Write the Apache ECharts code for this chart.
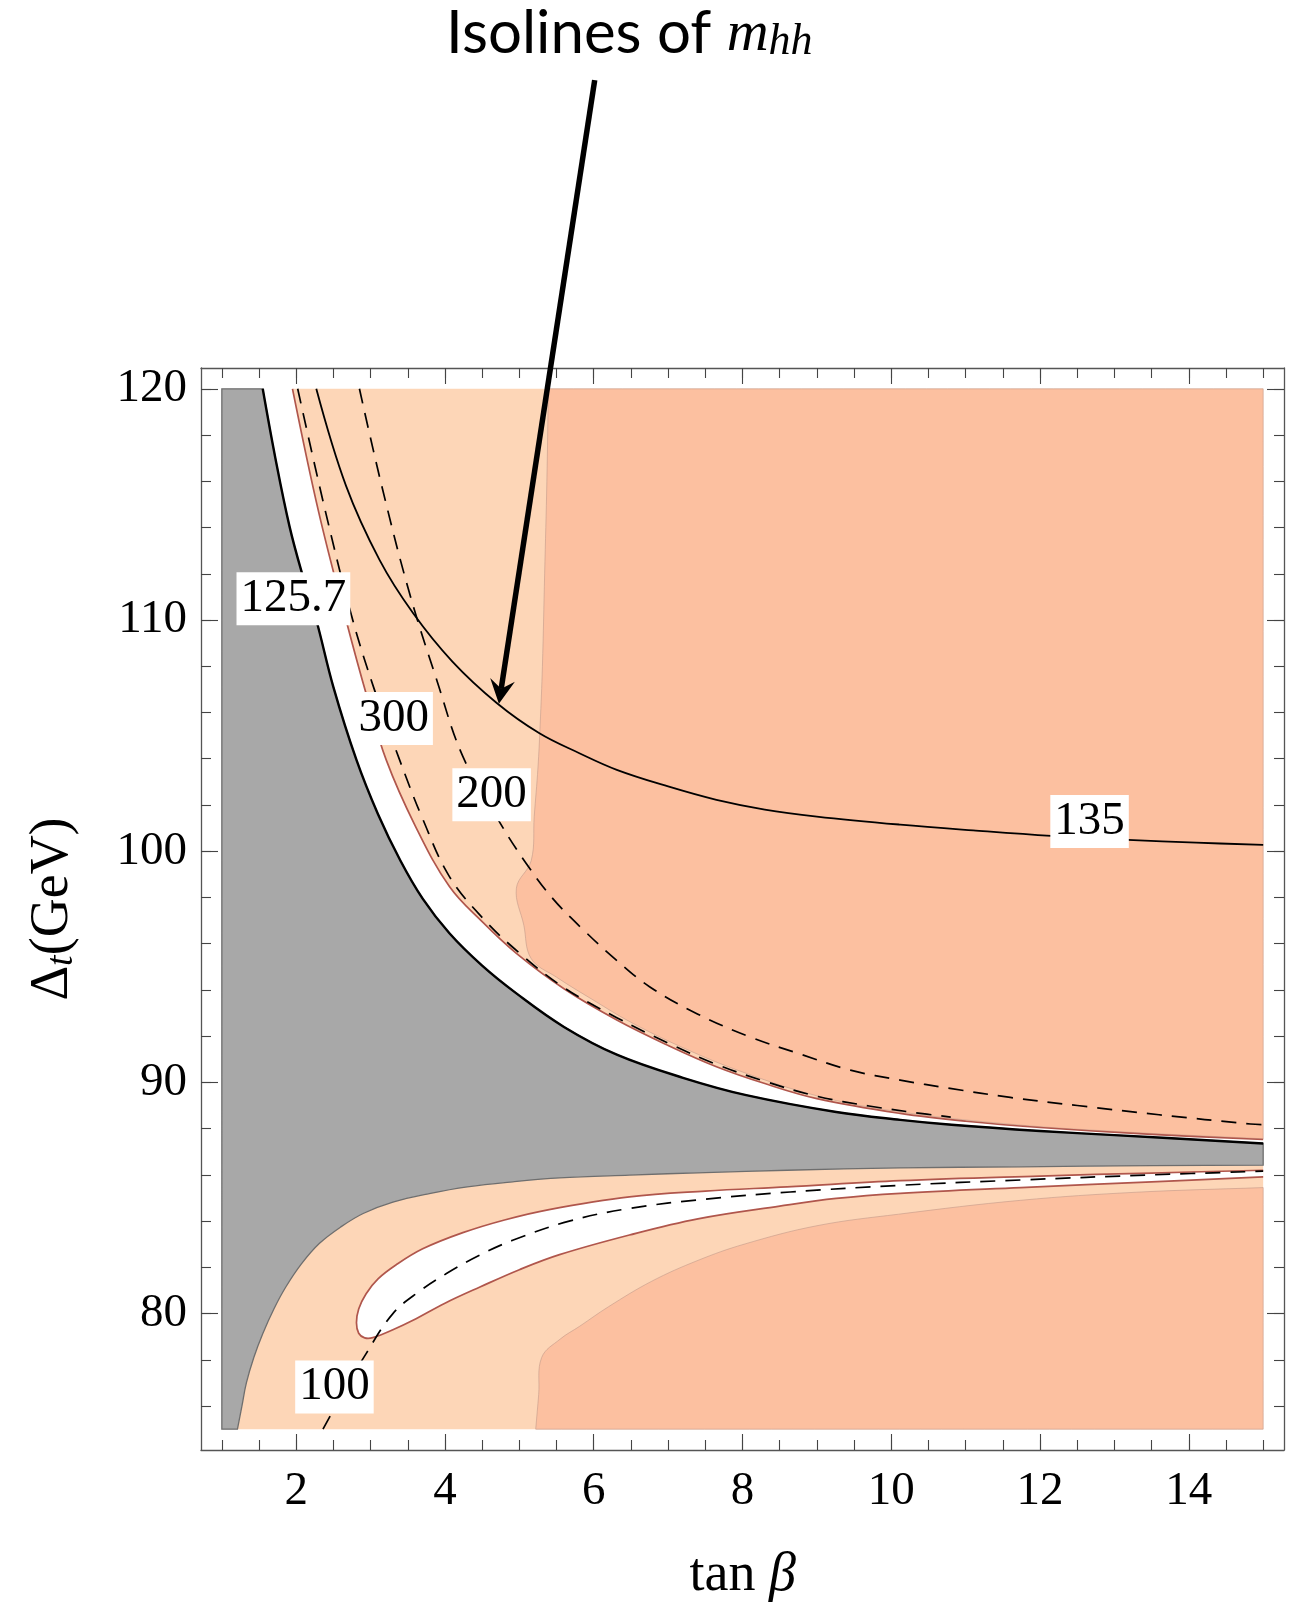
<!DOCTYPE html>
<html>
<head>
<meta charset="utf-8">
<script src="https://cdn.jsdelivr.net/npm/echarts@6/dist/echarts.min.js"></script>
<style>
html,body{margin:0;padding:0;background:#fff;}
#c{width:1294px;height:1603px;}
</style>
</head>
<body>
<div id="c"></div>
<script>
// ---------------- data ----------------
const xMajorTicks = [2, 4, 6, 8, 10, 12, 14];
const xMinorTicks = [1, 1.5, 2, 2.5, 3, 3.5, 4, 4.5, 5, 5.5, 6, 6.5, 7, 7.5, 8, 8.5, 9, 9.5, 10, 10.5, 11, 11.5, 12, 12.5, 13, 13.5, 14, 14.5, 15];
const yMajorTicks = [80, 90, 100, 110, 120];
const yMinorTicks = [76, 78, 80, 82, 84, 86, 88, 90, 92, 94, 96, 98, 100, 102, 104, 106, 108, 110, 112, 114, 116, 118, 120];

// m_hh = 125.7 contour (upper edge of the grey region)
const contour1257 = [[1.55,120],[1.72,117.0],[1.91,114.05],[2.08,112.0],[2.27,110.0],[2.5,107.1],[2.81,103.95],[3.1,101.6],[3.4,99.6],[3.7,97.95],[4.06,96.45],[4.5,95.05],[4.96,93.85],[5.6,92.4],[6.31,91.2],[7.2,90.2],[8.05,89.45],[9.26,88.72],[10.12,88.38],[10.81,88.17],[12,87.9],[13,87.72],[15,87.36]];
// lower edge of the grey region
const greyLower = [[1.21,75],[1.27,76],[1.33,77],[1.43,78.1],[1.55,79.13],[1.7,80.2],[1.86,81.15],[2.07,82.15],[2.31,83.03],[2.6,83.75],[2.9,84.33],[3.3,84.82],[3.79,85.19],[4.3,85.48],[4.91,85.7],[5.54,85.87],[6.48,85.99],[7.5,86.1],[8.6,86.2],[10.12,86.3],[11.74,86.35],[13.5,86.4],[15,86.42]];
// brown boundary of the upper allowed band
const brownUpper = [[1.95,120],[2.3,114.7],[2.67,110.0],[2.95,106.7],[3.21,103.95],[3.6,101.1],[4.06,98.47],[4.5,96.95],[4.96,95.58],[5.6,94.05],[6.31,92.7],[7.0,91.6],[7.65,90.68],[8.3,89.95],[9.0,89.3],[10.12,88.66],[11.0,88.32],[12.0,88.05],[13.5,87.75],[15,87.53]];
// edge of the darker upper region
const darkUpperEdge = [[5.39,120],[5.37,116],[5.34,112],[5.31,108],[5.28,105.5],[5.25,103.6],[5.2,101.5],[5.16,99.6],[4.96,98.4],[5.06,96.8],[5.16,95.35],[5.5,94.55],[6.0,93.55],[6.5,92.6],[7.2,91.5],[8.0,90.45],[9.0,89.42],[10.0,88.78],[11.5,88.22],[13,87.88],[15,87.56]];
// edge of the darker lower region
const darkLowerEdge = [[5.22,75],[5.26,76.5],[5.3,78.1],[5.55,78.9],[5.81,79.45],[6.2,80.3],[6.78,81.4],[7.4,82.3],[8.02,83.0],[9.0,83.8],[10.1,84.3],[11.74,84.9],[13.3,85.25],[15,85.45]];
// white tongue (lower allowed band), from upper-right round the tip to lower-right
const tongue = [[15,86.2],[13.5,86.08],[12,85.95],[10.12,85.75],[8.6,85.48],[7.5,85.3],[6.48,85.05],[5.4,84.5],[4.8,84.05],[4.24,83.5],[3.7,82.8],[3.34,82.1],[3.1,81.5],[2.94,80.86],[2.84,80.2],[2.81,79.6],[2.84,79.15],[2.92,78.95],[3.03,78.96],[3.3,79.3],[3.57,79.71],[4.0,80.45],[4.47,81.15],[5.0,81.9],[5.54,82.55],[6.48,83.4],[7.4,84.1],[8.5,84.65],[9.26,84.98],[10.12,85.2],[11.74,85.45],[13.5,85.7],[15,85.91]];
// isolines of m_hh
const iso300 = [[2.02,120],[2.4,114.6],[2.76,110.0],[3.05,107.0],[3.39,103.95],[3.7,101.4],[4.06,98.9],[4.51,97.1],[5.0,95.6],[5.6,94.1],[6.31,92.8],[7.0,91.7],[7.65,90.78],[8.3,90.05],[9.0,89.4],[9.7,88.98],[10.3,88.7],[10.8,88.5]];
const iso200 = [[2.85,120],[3.15,115.8],[3.52,111.2],[3.9,107.3],[4.24,104.1],[4.73,101.28],[5.09,99.48],[5.45,97.95],[5.86,96.6],[6.3,95.3],[6.75,94.14],[7.4,92.95],[8.1,91.97],[8.8,91.2],[9.45,90.53],[10.12,90.1],[10.79,89.74],[11.6,89.35],[12.5,89.0],[13.6,88.6],[14.83,88.2],[15,88.17]];
const iso135 = [[2.27,120],[2.67,115.8],[3.12,112.6],[3.57,110.3],[4.1,108.2],[4.7,106.4],[5.27,105.1],[5.8,104.25],[6.31,103.52],[7.0,102.8],[7.65,102.22],[8.3,101.8],[9.0,101.5],[10.12,101.15],[11.1,100.9],[12.15,100.66],[13.18,100.49],[14.1,100.37],[15,100.27]];
const iso100 = [[2.36,75],[2.6,76.4],[2.94,78.27],[3.3,80.0],[3.65,80.95],[4.02,81.73],[4.45,82.5],[4.91,83.17],[5.67,84.0],[6.48,84.55],[7.5,84.95],[8.64,85.26],[10.12,85.55],[11.74,85.78],[13.5,86.0],[15,86.16]];
// contour labels
const contourLabelText = ['125.7', '300', '200', '135', '100'];
const contourLabelPos = [[1.962,110.92],[3.31,105.74],[4.627,102.44],[12.666,101.28],[2.514,76.82]];
// annotation arrow (data space)
const arrowFrom = [6.013, 133.35];
const arrowTo = [4.725, 106.38];

// ---------------- styling / layout ----------------
const X0 = 0.72, X1 = 15.28, Y0 = 74.1, Y1 = 120.9;
const SERIF = 'Liberation Serif';
const LIGHT = '#fdd6b7', DARK = '#fcc0a0', GREY = '#a8a8a8', BROWN = '#b0564c';
const DASH = [15, 10];
const SMOOTH = 0.38;

function ring(segments) {
  const out = [];
  segments.forEach(s => { out.push(s[0]); s.forEach(p => out.push(p)); out.push(s[s.length - 1]); });
  return out;
}
function rev(a) { return a.slice().reverse(); }

function shape(pts, closed, style, z) {
  return {
    type: 'custom', coordinateSystem: 'cartesian2d', z: z, silent: true,
    data: [[1, 75]],
    renderItem: function (params, api) {
      return {
        type: closed ? 'polygon' : 'polyline',
        shape: { points: pts.map(p => api.coord(p)), smooth: SMOOTH },
        style: Object.assign({ fill: null }, style)
      };
    }
  };
}

function axis(dim, pos, ticks, len, showLabel, showLine) {
  return {
    type: 'value', position: pos,
    min: dim === 'x' ? X0 : Y0, max: dim === 'x' ? X1 : Y1,
    splitLine: { show: false },
    axisLine: { show: showLine, onZero: false, lineStyle: { color: '#555', width: 1.3 } },
    axisTick: { show: true, inside: true, length: len, customValues: ticks, lineStyle: { color: '#444', width: 1.1 } },
    axisLabel: { show: showLabel, customValues: ticks, fontFamily: SERIF, fontSize: 47, color: '#000', margin: dim === 'x' ? 18 : 14 }
  };
}

const upperLightPoly = ring([brownUpper, [[15, 87.53], [15, 120]], [[15, 120], [1.95, 120]]]);
const upperDarkPoly = ring([darkUpperEdge, [[15, 87.56], [15, 120]], [[15, 120], [5.39, 120]]]);
const lowerLightPoly = ring([greyLower, [[15, 86.42], [15, 75]], [[15, 75], [1.21, 75]]]);
const lowerDarkPoly = ring([darkLowerEdge, [[15, 85.45], [15, 75]], [[15, 75], [5.22, 75]]]);
const tonguePoly = ring([tongue, [[15, 85.91], [15, 86.2]]]);
const greyPoly = ring([[[1, 75], [1, 120]], [[1, 120], [1.55, 120]], contour1257, [[15, 87.36], [15, 86.42]], rev(greyLower), [[1.21, 75], [1, 75]]]);

const chart = echarts.init(document.getElementById('c'), null, { renderer: 'canvas' });

const option = {
  animation: false,
  backgroundColor: '#fff',
  grid: { left: 201, top: 368, width: 1083, height: 1082, containLabel: false, outerBoundsMode: 'none' },
  xAxis: [
    axis('x', 'bottom', xMajorTicks, 16, true, true),
    axis('x', 'bottom', xMinorTicks, 10, false, false),
    axis('x', 'top', xMajorTicks, 16, false, true),
    axis('x', 'top', xMinorTicks, 10, false, false)
  ],
  yAxis: [
    axis('y', 'left', yMajorTicks, 17, true, true),
    axis('y', 'left', yMinorTicks, 10, false, false),
    axis('y', 'right', yMajorTicks, 17, false, true),
    axis('y', 'right', yMinorTicks, 10, false, false)
  ],
  series: [
    shape(upperLightPoly, true, { fill: LIGHT }, 2),
    shape(upperDarkPoly, true, { fill: DARK, stroke: 'rgba(190,150,135,0.55)', lineWidth: 1 }, 3),
    shape(lowerLightPoly, true, { fill: LIGHT }, 4),
    shape(lowerDarkPoly, true, { fill: DARK, stroke: 'rgba(190,150,135,0.55)', lineWidth: 1 }, 5),
    shape(tonguePoly, true, { fill: '#fff' }, 6),
    shape(greyPoly, true, { fill: GREY, stroke: '#6e6e6e', lineWidth: 1.3 }, 7),
    shape(brownUpper, false, { stroke: BROWN, lineWidth: 1.7 }, 8),
    shape(tongue, false, { stroke: BROWN, lineWidth: 1.7 }, 8),
    shape(iso300, false, { stroke: '#000', lineWidth: 1.7, lineDash: DASH }, 9),
    shape(iso200, false, { stroke: '#000', lineWidth: 1.7, lineDash: DASH }, 9),
    shape(iso100, false, { stroke: '#000', lineWidth: 1.7, lineDash: DASH }, 9),
    shape(iso135, false, { stroke: '#000', lineWidth: 1.8 }, 9),
    shape(contour1257, false, { stroke: '#000', lineWidth: 2.4 }, 10)
  ]
};
chart.setOption(option);

const toPx = p => chart.convertToPixel({ xAxisIndex: 0, yAxisIndex: 0 }, p);
const tail = toPx(arrowFrom);
const tip = toPx(arrowTo);
const dx = tip[0] - tail[0], dy = tip[1] - tail[1], L = Math.hypot(dx, dy);
const ux = dx / L, uy = dy / L, px = -uy, py = ux;
const headLen = 24, halfW = 12.5, notch = 15;
const cA = [tip[0] - ux * headLen + px * halfW, tip[1] - uy * headLen + py * halfW];
const cB = [tip[0] - ux * headLen - px * halfW, tip[1] - uy * headLen - py * halfW];
const nP = [tip[0] - ux * notch, tip[1] - uy * notch];

const labelGraphics = contourLabelText.map((t, i) => {
  const c = toPx(contourLabelPos[i]);
  return {
    type: 'text', z: 40, x: c[0], y: c[1],
    style: {
      text: '{v|' + t + '}', align: 'center', verticalAlign: 'middle',
      backgroundColor: '#fff', padding: [3, 4, 3, 4],
      rich: { v: { fontFamily: SERIF, fontSize: 47, lineHeight: 47, fill: '#000' } }
    }
  };
});

chart.setOption({
  graphic: labelGraphics.concat([
    { type: 'line', z: 30, shape: { x1: tail[0], y1: tail[1], x2: nP[0], y2: nP[1] }, style: { stroke: '#000', lineWidth: 5.5 } },
    { type: 'polygon', z: 30, shape: { points: [tip, cA, nP, cB] }, style: { fill: '#000' } },
    {
      type: 'text', z: 30, x: 446, y: 34,
      style: {
        text: '{a|Isolines of }{m|m}{s|hh}', align: 'left', verticalAlign: 'middle',
        rich: {
          a: { fontFamily: 'Lato', fontSize: 60, lineHeight: 60, fill: '#000' },
          m: { fontFamily: SERIF, fontStyle: 'italic', fontSize: 58, lineHeight: 54, verticalAlign: 'bottom', fill: '#000' },
          s: { fontFamily: SERIF, fontStyle: 'italic', fontSize: 44, lineHeight: 34, verticalAlign: 'bottom', fill: '#000' }
        }
      }
    },
    {
      type: 'text', z: 30, x: 742.6, y: 1576,
      style: {
        text: '{n|tan }{b|β}', align: 'center', verticalAlign: 'middle',
        rich: {
          n: { fontFamily: SERIF, fontSize: 54, lineHeight: 56, fill: '#000' },
          b: { fontFamily: SERIF, fontStyle: 'italic', fontSize: 54, lineHeight: 56, fill: '#000' }
        }
      }
    },
    {
      type: 'text', z: 30, x: 53, y: 909, rotation: Math.PI / 2,
      style: {
        text: '{d|Δ}{t|t}{g|(GeV)}', align: 'center', verticalAlign: 'middle',
        rich: {
          d: { fontFamily: SERIF, fontSize: 54, lineHeight: 56, fill: '#000' },
          t: { fontFamily: SERIF, fontStyle: 'italic', fontSize: 38, lineHeight: 36, verticalAlign: 'bottom', fill: '#000' },
          g: { fontFamily: SERIF, fontSize: 54, lineHeight: 56, fill: '#000' }
        }
      }
    }
  ])
});
</script>
</body>
</html>
